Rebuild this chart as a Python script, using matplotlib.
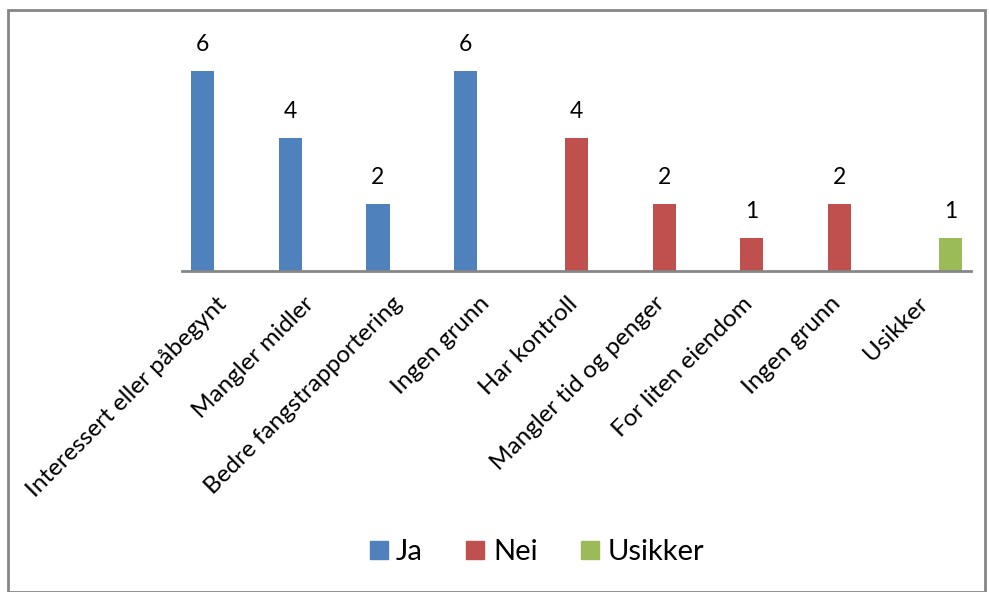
import matplotlib.pyplot as plt
import matplotlib.transforms as mtransforms
import numpy as np
from matplotlib.lines import Line2D
from matplotlib.patches import Rectangle

plt.rcParams['font.family'] = ['Lato', 'DejaVu Sans']

categories = ['Interessert eller påbegynt', 'Mangler midler', 'Bedre fangstrapportering',
              'Ingen grunn', 'Har kontroll', 'Mangler tid og penger', 'For liten eiendom',
              'Ingen grunn', 'Usikker']
ja = [6, 4, 2, 6, 0, 0, 0, 0, 0]
nei = [0, 0, 0, 0, 4, 2, 1, 2, 0]
usikker = [0, 0, 0, 0, 0, 0, 0, 0, 1]

series = [('Ja', ja, '#4f81bd'), ('Nei', nei, '#c0504d'), ('Usikker', usikker, '#9bbb59')]

fig = plt.figure(figsize=(9.89, 5.92), dpi=100)
W, H = 989, 592
# axes placed in pixel terms, then converted
left, right, bottom, top = 182, 971, 271, 38
ax = fig.add_axes([left / W, 1 - bottom / H, (right - left) / W, (bottom - top) / H])

x = np.arange(len(categories))
w = 0.265
for k, (name, vals, col) in enumerate(series):
    pos = x + (k - 1) * w
    ax.bar(pos, vals, width=w, color=col, label=name)
    for p, v in zip(pos, vals):
        if v > 0:
            ax.text(p, v + 0.48, str(v), ha='center', va='bottom', fontsize=16.5)

ax.set_xlim(-0.5, len(categories) - 0.5)
ax.set_ylim(0, 7)
for s in ['top', 'right', 'left']:
    ax.spines[s].set_visible(False)
ax.spines['bottom'].set_color('#868686')
ax.spines['bottom'].set_linewidth(2)
ax.set_yticks([])
ax.set_xticks(x)
ax.set_xticklabels(categories, rotation=45, ha='right', va='top', rotation_mode='anchor',
                   fontsize=17.5)
ax.tick_params(axis='x', length=0, pad=10)
shift = mtransforms.ScaledTranslation(-10 / 100, -8 / 100, fig.dpi_scale_trans)
for lab in ax.get_xticklabels():
    lab.set_transform(lab.get_transform() + shift)

handles = [Line2D([], [], marker='s', linestyle='', markersize=12.5, color=c, label=n)
           for n, _, c in series]
fig.legend(handles=handles, loc='center', bbox_to_anchor=(537 / W, 1 - 552 / H), ncol=3,
           frameon=False, fontsize=21, handlelength=0.6, columnspacing=1.5, handletextpad=0.3)

fig.patches.append(Rectangle((8 / W, 0), 1 - 12 / W, 1 - 10 / H, transform=fig.transFigure,
                             fill=False, edgecolor='#868686', linewidth=2))

fig.savefig('out.png', dpi=100)
